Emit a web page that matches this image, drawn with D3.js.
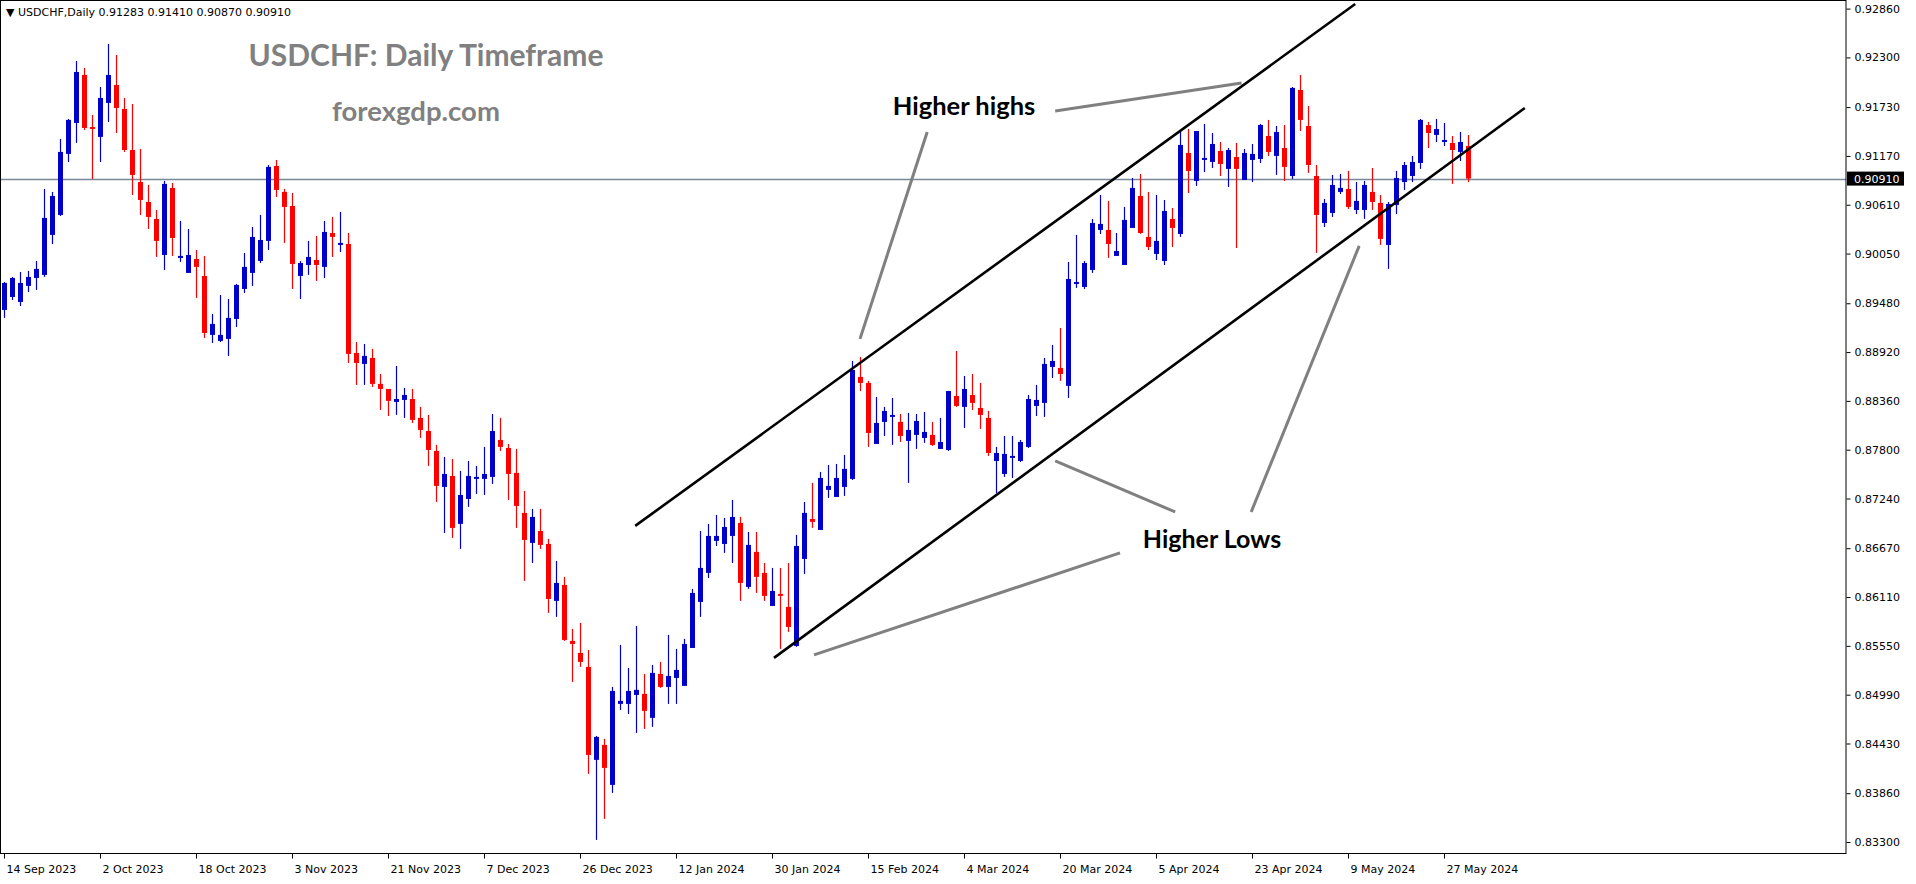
<!DOCTYPE html>
<html>
<head>
<meta charset="utf-8">
<script src="https://cdn.jsdelivr.net/npm/d3@7"></script>
<style>
  html, body { margin: 0; padding: 0; background: #fff; overflow: hidden; }
  text { font-family: "DejaVu Sans", sans-serif; }
</style>
</head>
<body>
<svg id="chart" width="1916" height="884"></svg>
<script>
// daily candles, 14 Sep 2023 .. end of May 2024: open, high, low, close
const opens = [
  0.89403,0.89552,0.89495,0.89679,0.89770,0.89805,0.90264,0.90493,0.91193,0.91548,
  0.92099,0.91502,0.91388,0.91778,0.91984,0.91709,0.91238,0.90871,0.90642,0.90447,
  0.90034,0.90803,0.90000,0.89828,0.89988,0.89793,0.89117,0.89048,0.89071,0.89300,
  0.89644,0.89828,0.89965,0.90195,0.91055,0.90757,0.90596,0.89793,0.89919,0.89977,
  0.89897,0.90286,0.90160,0.90160,0.88910,0.88784,0.88853,0.88555,0.88497,0.88348,
  0.88371,0.88382,0.88165,0.88015,0.87786,0.87373,0.87499,0.86949,0.87235,0.87465,
  0.87465,0.87488,0.87912,0.87820,0.87534,0.87075,0.86731,0.86868,0.86719,0.86066,
  0.86249,0.85607,0.85469,0.85309,0.84242,0.84414,0.83955,0.84884,0.84884,0.84987,
  0.84999,0.84724,0.85228,0.85079,0.85182,0.85091,0.85526,0.86054,0.86387,0.86754,
  0.86719,0.86811,0.86960,0.86226,0.86628,0.86387,0.86008,0.86146,0.85997,0.85549,
  0.86547,0.87006,0.86880,0.87339,0.87258,0.87373,0.87465,0.88635,0.88566,0.87866,
  0.88119,0.88187,0.88119,0.87901,0.87970,0.87935,0.87970,0.87809,0.87797,0.88417,
  0.88291,0.88428,0.88279,0.88165,0.87671,0.87522,0.87717,0.87671,0.87832,0.88302,
  0.88337,0.88750,0.88738,0.88532,0.89713,0.89667,0.89862,0.90321,0.90321,0.90023,
  0.89919,0.90344,0.90711,0.90241,0.90046,0.89965,0.90447,0.90275,0.91204,0.90883,
  0.91135,0.91101,0.91227,0.91021,0.91158,0.90894,0.91124,0.91135,0.91399,0.91170,
  0.91261,0.90940,0.91927,0.91514,0.90940,0.90401,0.90516,0.90757,0.90791,0.90550,
  0.90550,0.90757,0.90631,0.90149,0.90608,0.90871,0.90940,0.91089,0.91525,0.91411,
  0.91330,0.91319,0.91216,0.91283
];
const highs = [
  0.89724,0.89782,0.89839,0.89851,0.89965,0.90791,0.90757,0.91365,0.91594,0.92259,
  0.92179,0.91640,0.91961,0.92454,0.92328,0.91835,0.91766,0.91250,0.90837,0.90550,
  0.90883,0.90860,0.90424,0.90332,0.90091,0.90023,0.89357,0.89575,0.89529,0.89702,
  0.90057,0.90355,0.90493,0.91066,0.91124,0.90791,0.90745,0.89965,0.90195,0.90252,
  0.90424,0.90470,0.90527,0.90286,0.89036,0.89013,0.88956,0.88669,0.88497,0.88761,
  0.88509,0.88497,0.88291,0.88199,0.87855,0.87717,0.87694,0.87557,0.87671,0.87614,
  0.87832,0.88210,0.88165,0.87866,0.87809,0.87327,0.87121,0.87121,0.86777,0.86524,
  0.86341,0.85744,0.85813,0.85503,0.84517,0.84483,0.85079,0.85561,0.85297,0.85779,
  0.85228,0.85331,0.85366,0.85676,0.85515,0.85630,0.86203,0.86868,0.86949,0.87052,
  0.87018,0.87224,0.87029,0.86857,0.86857,0.86501,0.86444,0.86444,0.86501,0.86823,
  0.87201,0.87419,0.87545,0.87625,0.87637,0.87740,0.88818,0.88864,0.88589,0.88405,
  0.88291,0.88394,0.88210,0.88222,0.88210,0.88233,0.88119,0.88165,0.88474,0.88933,
  0.88646,0.88669,0.88566,0.88245,0.87832,0.87958,0.87958,0.87912,0.88428,0.88543,
  0.88853,0.89002,0.89197,0.89954,0.90264,0.89965,0.90447,0.90722,0.90654,0.90286,
  0.90585,0.90917,0.90963,0.90757,0.90722,0.90665,0.90573,0.91468,0.91479,0.91456,
  0.91537,0.91433,0.91330,0.91261,0.91319,0.91250,0.91307,0.91537,0.91583,0.91514,
  0.91525,0.91961,0.92099,0.91743,0.91066,0.90676,0.90952,0.90963,0.90998,0.90871,
  0.90883,0.91032,0.90722,0.90642,0.90998,0.91101,0.91170,0.91594,0.91560,0.91594,
  0.91548,0.91399,0.91445,0.91410
];
const lows = [
  0.89312,0.89518,0.89449,0.89610,0.89633,0.89782,0.90160,0.90481,0.91101,0.91319,
  0.91468,0.90906,0.91101,0.91560,0.91433,0.91216,0.90722,0.90493,0.90332,0.90011,
  0.89862,0.90023,0.89954,0.89828,0.89541,0.89082,0.89025,0.89036,0.88876,0.89208,
  0.89598,0.89679,0.89942,0.90091,0.90699,0.90172,0.89644,0.89529,0.89805,0.89736,
  0.89770,0.90011,0.90069,0.88795,0.88543,0.88543,0.88520,0.88256,0.88187,0.88199,
  0.88165,0.88107,0.87935,0.87614,0.87201,0.86845,0.86788,0.86662,0.87144,0.87293,
  0.87281,0.87408,0.87786,0.87224,0.86903,0.86295,0.86501,0.86662,0.85928,0.85882,
  0.85607,0.85136,0.85309,0.84081,0.83324,0.83565,0.83863,0.84815,0.84769,0.84551,
  0.84597,0.84620,0.85068,0.84884,0.84884,0.85091,0.85526,0.85882,0.86329,0.86696,
  0.86616,0.86501,0.86066,0.86203,0.86157,0.86066,0.86008,0.85515,0.85710,0.85538,
  0.86375,0.86903,0.86880,0.87247,0.87258,0.87270,0.87453,0.88474,0.87832,0.87866,
  0.87958,0.87855,0.87889,0.87419,0.87809,0.87878,0.87843,0.87809,0.87786,0.88291,
  0.88050,0.88256,0.88038,0.87729,0.87304,0.87488,0.87476,0.87660,0.87820,0.88187,
  0.88176,0.88623,0.88589,0.88394,0.89656,0.89644,0.89828,0.90275,0.90000,0.90023,
  0.89919,0.90344,0.90275,0.90091,0.89977,0.89919,0.90126,0.90241,0.90745,0.90826,
  0.90986,0.91032,0.90940,0.90814,0.90114,0.90894,0.90871,0.91089,0.91170,0.90952,
  0.90883,0.90906,0.91456,0.90975,0.90057,0.90355,0.90470,0.90734,0.90562,0.90504,
  0.90447,0.90550,0.90149,0.89874,0.90504,0.90780,0.90871,0.91021,0.91261,0.91330,
  0.91284,0.90849,0.91112,0.90870
];
const closes = [
  0.89713,0.89770,0.89713,0.89782,0.89874,0.90459,0.90711,0.91216,0.91583,0.92133,
  0.91491,0.91502,0.91835,0.92099,0.91720,0.91238,0.90952,0.90665,0.90470,0.90195,
  0.90849,0.90229,0.90023,0.90034,0.89897,0.89139,0.89243,0.89117,0.89312,0.89690,
  0.89897,0.90241,0.90206,0.91044,0.90780,0.90585,0.89931,0.89942,0.90011,0.89919,
  0.90298,0.90241,0.90172,0.88899,0.88795,0.88876,0.88555,0.88497,0.88360,0.88382,
  0.88428,0.88142,0.88027,0.87797,0.87385,0.87522,0.86903,0.87281,0.87499,0.87488,
  0.87522,0.88015,0.87832,0.87522,0.87155,0.86765,0.87029,0.86708,0.86088,0.86272,
  0.85618,0.85572,0.85366,0.84299,0.84505,0.84150,0.85033,0.84919,0.85033,0.85045,
  0.84804,0.85240,0.85079,0.85205,0.85274,0.85572,0.86157,0.86444,0.86811,0.86811,
  0.86914,0.87029,0.86272,0.86708,0.86341,0.86123,0.86180,0.86134,0.85767,0.86696,
  0.87075,0.86972,0.87476,0.87385,0.87476,0.87580,0.88715,0.88566,0.87992,0.88107,
  0.88245,0.88199,0.87958,0.88027,0.88130,0.88004,0.87855,0.87889,0.88474,0.88302,
  0.88497,0.88337,0.88199,0.87763,0.87763,0.87752,0.87729,0.87889,0.88382,0.88371,
  0.88784,0.88818,0.88669,0.89759,0.89724,0.89942,0.90401,0.90390,0.90160,0.90080,
  0.90436,0.90803,0.90286,0.90126,0.90195,0.90539,0.90344,0.91296,0.90998,0.91456,
  0.91147,0.91307,0.91078,0.91238,0.91021,0.91204,0.91193,0.91525,0.91216,0.91445,
  0.91044,0.91950,0.91583,0.91066,0.90493,0.90631,0.90837,0.90803,0.90585,0.90654,
  0.90837,0.90642,0.90218,0.90619,0.90917,0.91066,0.91101,0.91583,0.91433,0.91479,
  0.91353,0.91238,0.91330,0.90910
];

const priceTicks = [0.92860,0.92300,0.91730,0.91170,0.90610,0.90050,0.89480,0.88920,0.88360,
  0.87800,0.87240,0.86670,0.86110,0.85550,0.84990,0.84430,0.83860,0.83300];
const dateTicks = ['2023-09-14','2023-10-02','2023-10-18','2023-11-03','2023-11-21','2023-12-07',
  '2023-12-26','2024-01-12','2024-01-30','2024-02-15','2024-03-04','2024-03-20','2024-04-05',
  '2024-04-23','2024-05-09','2024-05-27'];
const lastPrice = 0.90910;

// trend channel and pointer lines: [candle index, price] end points
const channelLines = [
  [[78.9, 0.86926], [168.9, 0.92913]],
  [[96.25, 0.85412], [190.1, 0.91720]]
];
const pointers = [
  [[115.4, 0.91445], [107.0, 0.89071]],
  [[131.4, 0.91686], [154.7, 0.92007]],
  [[146.4, 0.87086], [131.4, 0.87671]],
  [[155.9, 0.87086], [169.4, 0.90138]],
  [[139.5, 0.86616], [101.25, 0.85446]]
];

// calendar of trading days (weekdays, no Christmas / New Year)
const days = [];
for (let d = new Date(Date.UTC(2023, 8, 14)); days.length < closes.length; d.setUTCDate(d.getUTCDate() + 1)) {
  const wd = d.getUTCDay();
  const md = d.getUTCMonth() * 100 + d.getUTCDate();
  if (wd === 0 || wd === 6 || md === 1125 || md === 1) continue;
  days.push(d.toISOString().slice(0, 10));
}

const plotR = 1846, plotB = 853;
const svg = d3.select('#chart');

const x = d3.scaleLinear().domain([0, 183]).range([4, 1468]);
const y = d3.scaleLinear().domain([0.92860, 0.83300]).range([8.6, 842]);

const bull = '#0000cc', bear = '#ff0000';

const plot = svg.append('g');

// current price line
plot.append('line')
  .attr('x1', 0).attr('x2', plotR)
  .attr('y1', Math.round(y(lastPrice)) + 0.5).attr('y2', Math.round(y(lastPrice)) + 0.5)
  .attr('stroke', '#778899').attr('stroke-width', 1.4);

const candles = plot.selectAll('g.candle')
  .data(closes.map((c, i) => ({ i, o: opens[i], h: highs[i], l: lows[i], c })))
  .enter().append('g').attr('class', 'candle');

const col = d => (d.c > d.o || (d.c === d.o && d.i !== 11)) ? bull : bear;

candles.append('line')
  .attr('x1', d => Math.round(x(d.i)) + 0.5).attr('x2', d => Math.round(x(d.i)) + 0.5)
  .attr('y1', d => y(d.h)).attr('y2', d => y(d.l))
  .attr('stroke', col).attr('stroke-width', 1.2);

candles.append('rect')
  .attr('x', d => Math.round(x(d.i)) - 2)
  .attr('width', 5)
  .attr('y', d => y(Math.max(d.o, d.c)))
  .attr('height', d => Math.max(2, Math.abs(y(d.o) - y(d.c))))
  .attr('fill', col);

const line = d3.line().x(p => x(p[0])).y(p => y(p[1]));

plot.selectAll('path.channel').data(channelLines).enter().append('path')
  .attr('class', 'channel').attr('d', line)
  .attr('stroke', '#000').attr('stroke-width', 2.6).attr('fill', 'none');

plot.selectAll('path.pointer').data(pointers).enter().append('path')
  .attr('class', 'pointer').attr('d', line)
  .attr('stroke', '#808080').attr('stroke-width', 3).attr('fill', 'none');

// annotations
const ann = svg.append('g').attr('font-weight', 'bold');
ann.append('text').attr('x', 964).attr('y', 115).attr('text-anchor', 'middle')
  .attr('font-size', 25.5).attr('fill', '#000').style('font-family', 'Lato').text('Higher highs');
ann.append('text').attr('x', 1212).attr('y', 548).attr('text-anchor', 'middle')
  .attr('font-size', 25).attr('fill', '#000').style('font-family', 'Lato').text('Higher Lows');
ann.append('text').attr('x', 426).attr('y', 66).attr('text-anchor', 'middle')
  .attr('font-size', 30).attr('fill', '#808080').style('font-family', 'Lato').text('USDCHF: Daily Timeframe');
ann.append('text').attr('x', 416).attr('y', 121).attr('text-anchor', 'middle')
  .attr('font-size', 27.5).attr('fill', '#808080').style('font-family', 'Lato').text('forexgdp.com');

// header
svg.append('text').attr('x', 6).attr('y', 16).attr('font-size', 11).attr('fill', '#000')
  .text('\u25BC USDCHF,Daily  0.91283 0.91410 0.90870 0.90910');

// frame
svg.append('rect').attr('x', 0.5).attr('y', 0.5).attr('width', plotR - 0.5).attr('height', plotB)
  .attr('fill', 'none').attr('stroke', '#000').attr('stroke-width', 1);

// price axis
const yAxis = svg.append('g').attr('transform', `translate(${plotR + 0.5},0)`)
  .call(d3.axisRight(y).tickValues(priceTicks).tickFormat(d3.format('.5f')).tickSize(4).tickSizeOuter(0));
yAxis.select('.domain').remove();
yAxis.selectAll('text').attr('font-size', 11).attr('font-family', '"DejaVu Sans", sans-serif').attr('x', 8);

// last price tag
const ly = y(lastPrice);
svg.append('rect').attr('x', plotR + 1).attr('y', ly - 7).attr('width', 57).attr('height', 14).attr('fill', '#000');
svg.append('text').attr('x', plotR + 8).attr('y', ly + 4).attr('font-size', 11).attr('fill', '#fff')
  .text(d3.format('.5f')(lastPrice));

// date axis
const fmt = d3.utcFormat('%-d %b %Y');
const dAxis = svg.append('g').attr('transform', `translate(0,${plotB + 0.5})`);
dateTicks.forEach(ds => {
  const i = days.indexOf(ds);
  if (i < 0) return;
  const px = Math.round(x(i)) + 0.5;
  dAxis.append('line').attr('x1', px).attr('x2', px).attr('y1', 0).attr('y2', 5).attr('stroke', '#000');
  dAxis.append('text').attr('x', px + 2).attr('y', 19).attr('font-size', 11).attr('fill', '#000')
    .text(fmt(new Date(ds + 'T00:00:00Z')));
});
</script>
</body>
</html>
